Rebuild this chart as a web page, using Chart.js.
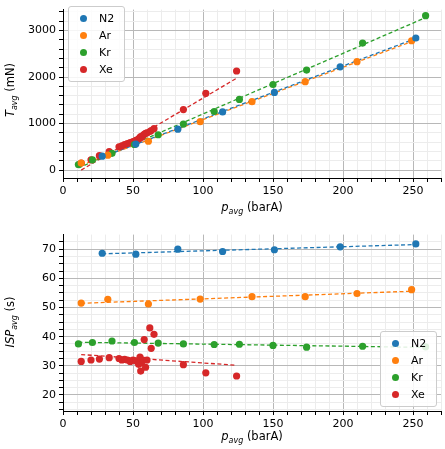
<!DOCTYPE html>
<html>
<head>
<meta charset="utf-8">
<script src="https://cdn.jsdelivr.net/npm/chart.js@4"></script>
<style>
  body { margin: 0; width: 445px; height: 449px; position: relative; background: #fff; font-family: "DejaVu Sans", sans-serif; overflow: hidden; }
  .box { position: absolute; left: 0; width: 445px; }
  .lbl { position: absolute; font-size: 11.5px; color: #000; white-space: nowrap; }
  .rot { transform: translate(-50%, -50%) rotate(-90deg); }
  .legend { position: absolute; background: rgba(255,255,255,0.85); border: 1px solid #ccc; border-radius: 3px; font-size: 11px; }
  .legend div { position: relative; height: 17px; line-height: 17px; padding-left: 30px; padding-right: 10px; }
  .legend span { position: absolute; left: 11px; top: 5px; width: 7px; height: 7px; border-radius: 50%; }
  sub { font-size: 8px; }
</style>
</head>
<body>
<div class="box" style="top:0;height:225px"><canvas id="top"></canvas></div>
<div class="box" style="top:225px;height:224px"><canvas id="bot"></canvas></div>

<div class="lbl rot" style="left:11px;top:90px"><i>T</i><sub><i>avg</i></sub> (mN)</div>
<div class="lbl" style="left:252px;top:208px;transform:translate(-50%,-50%)"><i>p</i><sub><i>avg</i></sub> (barA)</div>
<div class="lbl rot" style="left:11px;top:322px"><i>ISP</i><sub><i>avg</i></sub> (s)</div>
<div class="lbl" style="left:252px;top:437px;transform:translate(-50%,-50%)"><i>p</i><sub><i>avg</i></sub> (barA)</div>

<div class="legend" id="legTop" style="left:68px;top:6px;padding:3px 0"></div>
<div class="legend" id="legBot" style="left:380px;top:331px;padding:3px 0"></div>

<script>
const NAMES = ["N2", "Ar", "Kr", "Xe"];
const COLORS = ["#1f77b4", "#ff7f0e", "#2ca02c", "#d62728"];

const P_N2 = [28, 52, 82, 114, 151, 198, 252];
const T_N2 = [300, 560, 880, 1250, 1670, 2220, 2840];
const ISP_N2 = [68.6, 68.3, 70.0, 69.2, 69.8, 70.8, 71.8];

const P_AR = [13, 32, 61, 98, 135, 173, 210, 249];
const T_AR = [150, 320, 620, 1040, 1470, 1900, 2330, 2780];
const ISP_AR = [51.5, 52.8, 51.2, 52.9, 53.7, 53.7, 54.8, 56.1];

const P_KR = [11, 21, 35, 51, 68, 86, 108, 126, 150, 174, 214, 259];
const T_KR = [120, 220, 360, 550, 760, 990, 1260, 1520, 1840, 2150, 2730, 3320];
const ISP_KR = [37.5, 38.0, 38.5, 38.0, 37.8, 37.5, 37.3, 37.4, 37.0, 36.4, 36.7, 36.5];

const P_XE = [13, 20, 26, 33, 40, 42, 44, 46, 48, 50, 52, 54, 55, 55.5, 56, 57, 58, 59, 60, 62, 63, 65, 86, 102, 124];
const T_XE = [150, 220, 310, 400, 500, 520, 550, 570, 590, 610, 640, 670, 700, 720, 700, 740, 770, 790, 800, 830, 850, 890, 1300, 1650, 2130];
const ISP_XE = [31.5, 32.0, 32.3, 32.8, 32.5, 32.0, 32.2, 32.0, 31.5, 32.0, 31.7, 30.5, 33.0, 28.2, 31.0, 32.0, 39.0, 29.5, 32.0, 43.0, 36.0, 40.8, 30.4, 27.6, 26.5];

const X_TICKS = [0, 10, 20, 30, 40, 50, 60, 70, 80, 90, 100, 110, 120, 130, 140, 150, 160, 170, 180, 190, 200, 210, 220, 230, 240, 250, 260, 270];
const Y_TICKS_TOP = [0, 200, 400, 600, 800, 1000, 1200, 1400, 1600, 1800, 2000, 2200, 2400, 2600, 2800, 3000, 3200, 3400];
const Y_TICKS_BOT = [15, 17.5, 20, 22.5, 25, 27.5, 30, 32.5, 35, 37.5, 40, 42.5, 45, 47.5, 50, 52.5, 55, 57.5, 60, 62.5, 65, 67.5, 70, 72.5];

const P = [P_N2, P_AR, P_KR, P_XE];
const T = [T_N2, T_AR, T_KR, T_XE];
const ISP = [ISP_N2, ISP_AR, ISP_KR, ISP_XE];

function fit(xs, ys) {
  const n = xs.length;
  const mx = xs.reduce((a, b) => a + b, 0) / n;
  const my = ys.reduce((a, b) => a + b, 0) / n;
  let sxy = 0, sxx = 0;
  for (let i = 0; i < n; i++) { sxy += (xs[i] - mx) * (ys[i] - my); sxx += (xs[i] - mx) ** 2; }
  const k = sxy / sxx, b = my - k * mx;
  const x0 = Math.min(...xs), x1 = Math.max(...xs);
  return [{ x: x0, y: k * x0 + b }, { x: x1, y: k * x1 + b }];
}

function makeDatasets(ysets) {
  const ds = [];
  NAMES.forEach((name, i) => {
    ds.push({
      type: "scatter", label: name,
      data: P[i].map((x, j) => ({ x: x, y: ysets[i][j] })),
      backgroundColor: COLORS[i], borderColor: COLORS[i],
      pointRadius: 3.6, pointHoverRadius: 3.6, borderWidth: 0,
    });
  });
  NAMES.forEach((name, i) => {
    ds.push({
      type: "line", label: name + " fit",
      data: fit(P[i], ysets[i]),
      borderColor: COLORS[i], borderWidth: 1.3, borderDash: [4, 2.5],
      pointRadius: 0, fill: false,
    });
  });
  return ds;
}

function majorColor(isMajor) { return isMajor ? "#b8b8b8" : "#ececec"; }

function makeChart(id, ysets, yTicks, yMin, yMax, yMajor, pad, xHeight) {
  return new Chart(document.getElementById(id), {
    data: { datasets: makeDatasets(ysets) },
    options: {
      responsive: true, maintainAspectRatio: false, animation: false,
      layout: { padding: pad },
      plugins: { legend: { display: false }, tooltip: { enabled: false } },
      scales: {
        x: {
          type: "linear", min: 0, max: 270,
          afterBuildTicks: (s) => { s.ticks = X_TICKS.map((v) => ({ value: v })); },
          afterFit: (s) => { s.height = xHeight; },
          ticks: {
            autoSkip: false, maxRotation: 0, color: "#000", font: { family: "DejaVu Sans", size: 11 },
            callback: (v) => (v % 50 === 0 ? v : ""),
          },
          grid: {
            color: (c) => majorColor(c.tick && c.tick.value % 50 === 0),
            tickLength: 4, tickColor: "#000",
          },
          border: { color: "#000" },
        },
        y: {
          type: "linear", min: yMin, max: yMax,
          afterBuildTicks: (s) => { s.ticks = yTicks.map((v) => ({ value: v })); },
          afterFit: (s) => { s.width = 63 - pad.left; },
          ticks: {
            autoSkip: false, color: "#000", font: { family: "DejaVu Sans", size: 11 },
            callback: (v) => (v % yMajor === 0 ? v : ""),
          },
          grid: {
            color: (c) => majorColor(c.tick && c.tick.value % yMajor === 0),
            tickLength: 4, tickColor: "#000",
          },
          border: { color: "#000" },
        },
      },
    },
  });
}

makeChart("top", T, Y_TICKS_TOP, -170, 3450, 1000, { left: 0, right: 4, top: 2, bottom: 0 }, 47);
makeChart("bot", ISP, Y_TICKS_BOT, 14.5, 75, 10, { left: 0, right: 4, top: 8, bottom: 0 }, 38);

function buildLegend(id) {
  const el = document.getElementById(id);
  NAMES.forEach((name, i) => {
    const row = document.createElement("div");
    const dot = document.createElement("span");
    dot.style.background = COLORS[i];
    row.appendChild(dot);
    row.appendChild(document.createTextNode(name));
    el.appendChild(row);
  });
}
buildLegend("legTop");
buildLegend("legBot");
</script>
</body>
</html>
